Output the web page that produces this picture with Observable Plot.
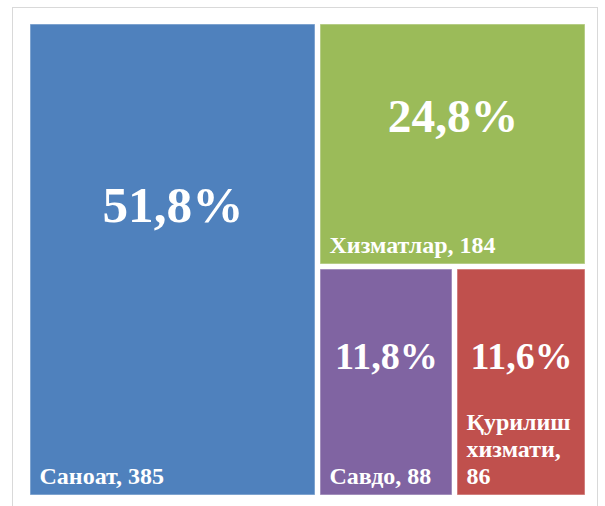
<!DOCTYPE html>
<html>
<head>
<meta charset="utf-8">
<script src="https://cdn.jsdelivr.net/npm/d3@7"></script>
<script src="https://cdn.jsdelivr.net/npm/@observablehq/plot@0.6"></script>
<style>
  html, body { margin: 0; padding: 0; background: #fff; }
  #wrap { position: relative; width: 605px; height: 506px; overflow: hidden; }
  #frame { position: absolute; left: 12px; top: 7px; width: 586px; height: 510px;
           border: 1.5px solid #d9d9d9; box-sizing: border-box; }
  #chart { position: absolute; left: 0; top: 0; }
</style>
</head>
<body>
<div id="wrap"><div id="frame"></div><div id="chart"></div></div>
<script>
const categories = ["Саноат", "Хизматлар", "Савдо", "Қурилиш хизмати"];
const values = [385, 184, 88, 86];
const shares = ["51,8%", "24,8%", "11,8%", "11,6%"];
const colors = ["#4F81BD", "#9BBB59", "#8064A2", "#C0504D"];

const W = 605, H = 506;
const areaW = 555, areaH = 471;

const root = d3.hierarchy({children: categories.map((c, i) => ({name: c, value: values[i], share: shares[i], color: colors[i]}))})
  .sum(d => d.value || 0);
d3.treemap().tile(d3.treemapBinary).size([areaW, areaH]).paddingInner(5).round(true)(root);
const tiles = root.leaves().map(l => ({...l.data, x0: l.x0, x1: l.x1, y0: l.y0, y1: l.y1}));

const nameFont = 24;
const ctx = document.createElement("canvas").getContext("2d");
ctx.font = `bold ${nameFont}px "Liberation Serif"`;
function wrap(text, maxW) {
  if (ctx.measureText(text).width <= maxW) return text;
  return text.split(" ").join("\n");
}
tiles.forEach(t => {
  const w = t.x1 - t.x0, h = t.y1 - t.y0;
  t.label = wrap(`${t.name}, ${t.value}`, w - 14);
  t.pctSize = 26.85 + 0.0858 * Math.min(w, h);
});

const chart = Plot.plot({
  width: W, height: H,
  margin: 0,
  x: {domain: [-30, W - 30], range: [0, W], axis: null},
  y: {domain: [-24, H - 24], range: [0, H], axis: null},
  marks: [
    Plot.rect(tiles, {x1: "x0", x2: "x1", y1: "y0", y2: "y1", fill: "color",
      stroke: "white", strokeOpacity: 0.45, strokeWidth: 1.2}),
    Plot.text(tiles, {
      x: d => (d.x0 + d.x1) / 2,
      y: d => d.y0 + (d.y1 - d.y0) * 0.385,
      text: "share", fill: "white",
      fontSize: d => d.pctSize, fontWeight: "bold",
      fontFamily: "Liberation Serif", textAnchor: "middle", lineAnchor: "middle"
    }),
    Plot.text(tiles, {
      x: "x0", y: "y1", dx: 9, dy: -12,
      text: "label", fill: "white",
      fontSize: nameFont, fontWeight: "bold", lineHeight: 1.12,
      fontFamily: "Liberation Serif", textAnchor: "start", lineAnchor: "bottom"
    })
  ]
});
document.getElementById("chart").appendChild(chart);
</script>
</body>
</html>
